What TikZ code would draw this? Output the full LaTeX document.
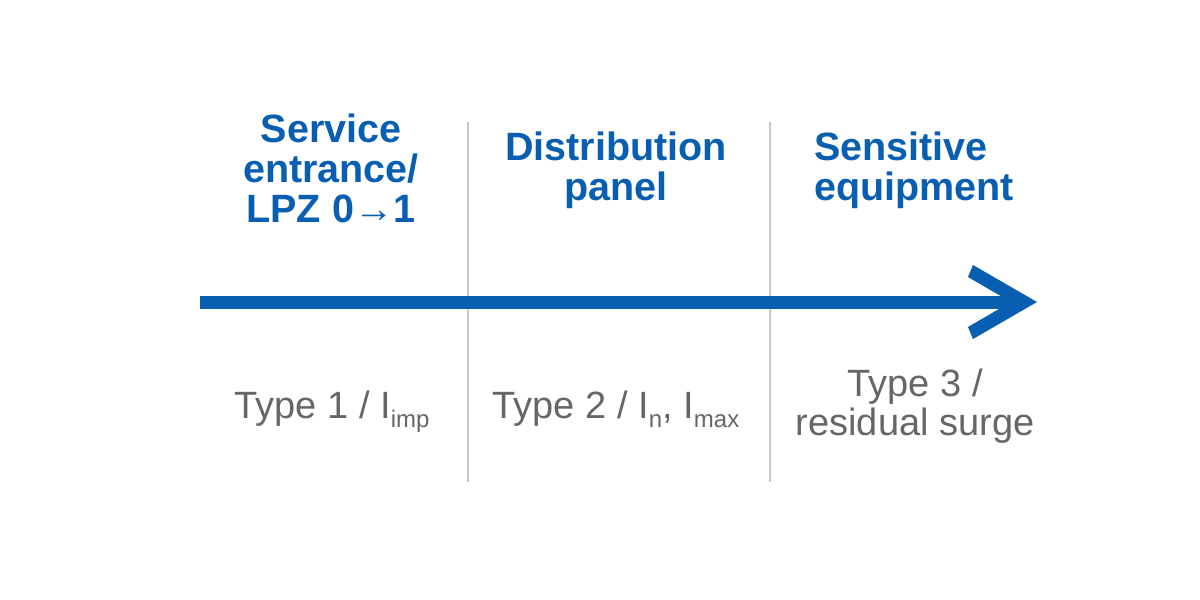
\documentclass[tikz,border=0pt]{standalone}
\usepackage{fontspec}
\setmainfont{Liberation Sans}
\usetikzlibrary{positioning}

\definecolor{zoneblue}{RGB}{8,94,176}
\definecolor{typegray}{RGB}{102,102,102}
\definecolor{dividergray}{RGB}{200,200,200}

\newcommand{\lowsub}[1]{\raisebox{-9pt}{\fontsize{24}{24}\selectfont #1}}

\tikzset{
  heading/.style={text=zoneblue, font=\fontsize{39.5}{40}\selectfont\bfseries, inner sep=0pt},
  rating/.style={text=typegray, font=\fontsize{38}{39}\selectfont, inner sep=0pt},
  divider/.style={draw=dividergray, line width=1.6pt},
  flow/.style={draw=zoneblue, line width=13pt}
}

\begin{document}
\begin{tikzpicture}[x=1pt,y=-1pt]
\useasboundingbox (0,0) rectangle (1200,600);
\def\dividertop{122}
\def\dividerbottom{482}
\def\flowy{302}

% zone borders
\coordinate (BorderOneTop) at (468,\dividertop);
\coordinate (BorderOneBottom) at (468,\dividerbottom);
\coordinate (BorderTwoTop) at (770,\dividertop);
\coordinate (BorderTwoBottom) at (770,\dividerbottom);
\draw[divider] (BorderOneTop) -- (BorderOneBottom);
\draw[divider] (BorderTwoTop) -- (BorderTwoBottom);

% surge path
\coordinate (FlowStart) at (200,\flowy);
\coordinate (FlowEnd) at (1020,\flowy);
\coordinate (FlowTip) at (1037,\flowy);
\draw[flow] (FlowStart) -- (FlowEnd);
\fill[zoneblue] (FlowTip) -- ++(-64,-37) -- ++(-5,12) -- ++(43,25)
  -- ++(-43,25) -- ++(5,12) -- cycle;

% zone titles
\node[heading, align=center, anchor=north] (EntranceTitle) at (331,114)
  {Service\\entrance/\\LPZ 0→1};
\node[heading, align=center, anchor=north] (PanelTitle) at (616,132)
  {Distribution\\panel};
\node[heading, align=left, anchor=north west] (EquipTitle) at (814,132)
  {Sensitive\\equipment};

% device types
\node[rating, anchor=base] (TypeOne) at (332,418) {Type 1 / I\lowsub{imp}};
\node[rating, anchor=base] (TypeTwo) at (616,418) {Type 2 / I\lowsub{n}, I\lowsub{max}};
\node[rating, align=center, anchor=north] (TypeThree) at (915,369)
  {Type 3 /\\residual surge};
\end{tikzpicture}
\end{document}
